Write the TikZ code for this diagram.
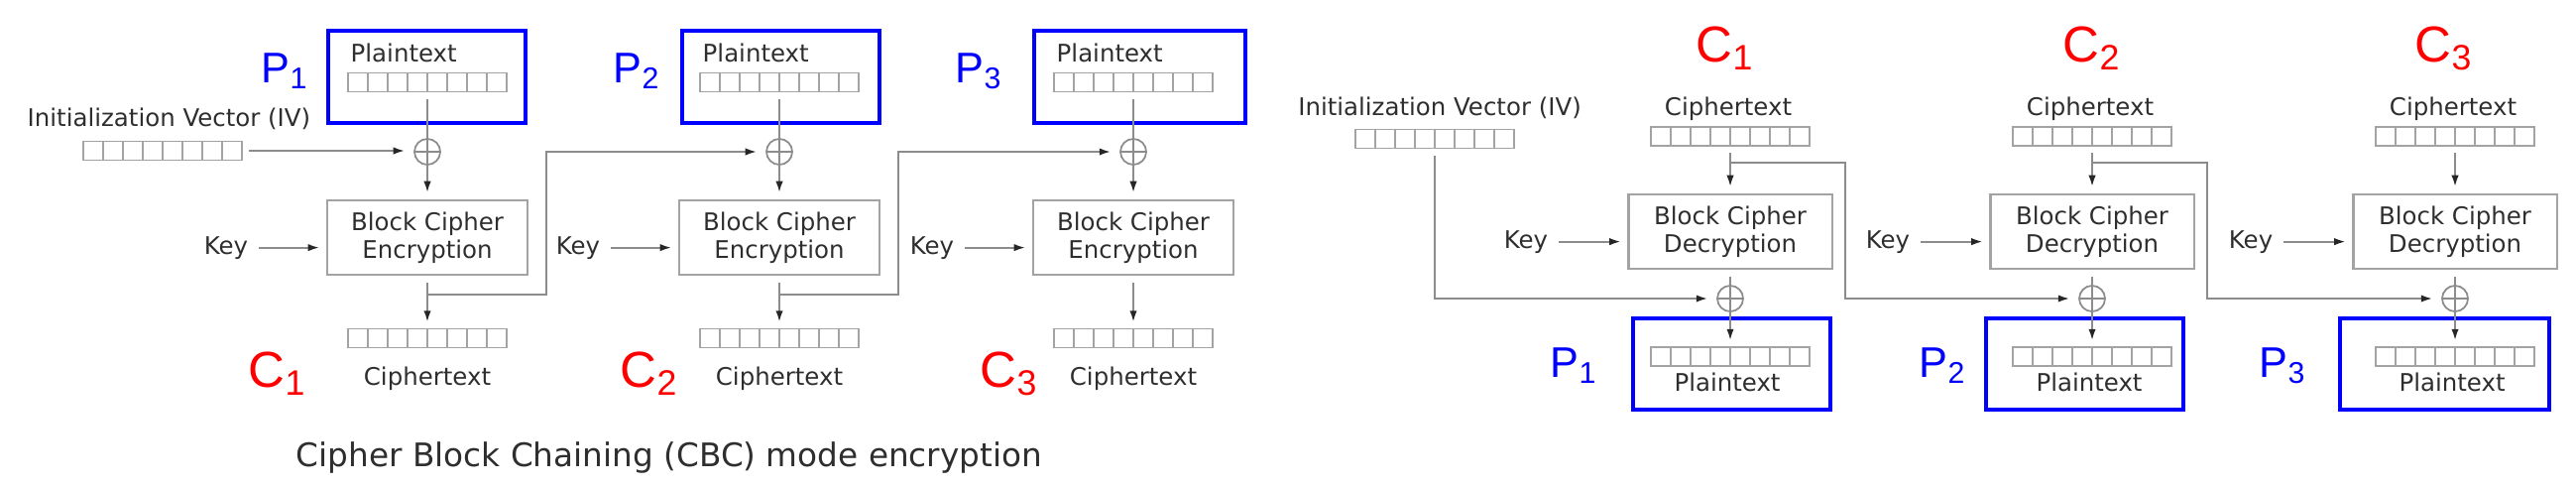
\documentclass[tikz,border=0pt]{standalone}
\usepackage{fontspec}
\setmainfont{DejaVu Sans}
\newfontfamily\lblfont{Liberation Sans}
\usepackage{graphicx}
\usetikzlibrary{arrows.meta}
\definecolor{lnclr}{HTML}{8C8C8C}
\definecolor{edgeclr}{HTML}{A3A3A3}
\definecolor{txtclr}{HTML}{2E2E2E}
\newcommand\Sub[1]{\raisebox{-.16em}{\scalebox{.7}{#1}}}
\tikzset{
  ln/.style={draw=lnclr,line width=.5pt},
  arr/.style={ln,-{Latex[length=3.2pt,width=2.1pt,color=black!85]}},
  txt/.style={text=txtclr,inner sep=0pt,font=\fontsize{6.95pt}{8.1pt}\selectfont},
  bits/.style={draw=edgeclr,line width=.5pt,minimum width=1.6cm,minimum height=.19cm,inner sep=0pt,outer sep=.07cm,
    path picture={\foreach \k in {1,...,7}
      \draw[edgeclr,line width=.5pt] ([xshift=\k*.2cm]path picture bounding box.south west)--([xshift=\k*.2cm]path picture bounding box.north west);}},
  blk/.style={txt,draw=edgeclr,line width=.6pt,align=center,minimum height=.75cm,outer sep=.08cm},
  xorop/.style={circle,draw=lnclr,line width=.5pt,minimum size=.26cm,inner sep=0pt,outer sep=.1cm,
    path picture={\draw[lnclr,line width=.5pt] (path picture bounding box.north)--(path picture bounding box.south)
      (path picture bounding box.west)--(path picture bounding box.east);}},
  ptbox/.style={draw=blue,line width=1pt,inner sep=0pt},
  plbl/.style={blue,inner sep=0pt,anchor=base west,font=\lblfont\fontsize{12.3pt}{14pt}\selectfont},
  clbl/.style={red,inner sep=0pt,anchor=base west,font=\lblfont\fontsize{14.5pt}{16pt}\selectfont},
}
\begin{document}
\begin{tikzpicture}[x=.01cm,y=-.01cm]
  \useasboundingbox (0,0) rectangle (2598,490);
  % encryption
  \node[txt,anchor=base west] (eivt) at (27,127) {Initialization Vector (IV)};
  \node[bits] (eiv) at (164,152) {};
  \foreach \i/\cx/\pl/\bx/\bw/\cl in {1/431/263/430.5/1.99/250,2/786/618/787.5/1.99/625,3/1143/963/1149.5/2.13/988}{
    \node[ptbox,minimum width=\bw cm,minimum height=.93cm] (epb\i) at (\bx,77.5) {};
    \node[txt,anchor=base west] (eptt\i) at (\cx-78,62) {Plaintext};
    \node[bits] (ept\i) at (\cx,83) {};
    \node[plbl] (eP\i) at (\pl,83) {P\Sub{\i}};
    \node[xorop] (ex\i) at (\cx,153) {};
    \node[blk,minimum width=2.02cm] (eb\i) at (\cx,239.5) {Block Cipher\\Encryption};
    \node[txt,anchor=base] (ek\i) at (\cx-203,256) {Key};
    \node[bits] (ect\i) at (\cx,341) {};
    \node[txt,anchor=base] (ectt\i) at (\cx,388) {Ciphertext};
    \node[clbl] (eC\i) at (\cl,390) {C\Sub{\i}};
    \coordinate (ebr\i) at (\cx,297);
    \draw[ln] (ept\i.south) -- (ex\i.center);
    \draw[arr] (ex\i.center) -- (eb\i.north);
    \draw[arr,shorten <=.1cm] (ek\i.east) -- (ek\i.east -| eb\i.west);
    \draw[arr] (eb\i.south) -- (ect\i.north);
  }
  \draw[arr] (eiv.east) -- (eiv.east -| ex1.west);
  \foreach \i/\j in {1/2,2/3}
    \draw[arr] (ebr\i) -- ++(120,0) |- (ex\j.west);
  \node[txt,anchor=base,font=\fontsize{9.3pt}{11pt}\selectfont] (cap) at (675,470) {Cipher Block Chaining (CBC) mode encryption};
  % decryption
  \node[txt,anchor=base] (divt) at (1452,116) {Initialization Vector (IV)};
  \node[bits] (div) at (1447,140) {};
  \foreach \i/\cx/\cl/\pl/\bx/\bw in {1/1745/1710/1563/1746.5/1.99,2/2110/2080/1935/2102.5/1.99,3/2476/2435/2278/2465.5/2.11}{
    \node[clbl] (dC\i) at (\cl,62) {C\Sub{\i}};
    \node[txt,anchor=base] (dctt\i) at (\cx-2,116) {Ciphertext};
    \node[bits] (dct\i) at (\cx,137.5) {};
    \node[blk,minimum width=2.05cm] (db\i) at (\cx,233.5) {Block Cipher\\Decryption};
    \node[txt,anchor=base] (dk\i) at (\cx-206,250) {Key};
    \node[xorop] (dx\i) at (\cx,301) {};
    \node[ptbox,minimum width=\bw cm,minimum height=.92cm] (dpb\i) at (\bx,367) {};
    \node[bits] (dpt\i) at (\cx,359.5) {};
    \node[txt,anchor=base] (dptt\i) at (\cx-3,394) {Plaintext};
    \node[plbl] (dP\i) at (\pl,380) {P\Sub{\i}};
    \coordinate (dbr\i) at (\cx,164);
    \draw[arr] (dct\i.south) -- (db\i.north);
    \draw[arr,shorten <=.1cm] (dk\i.east) -- (dk\i.east -| db\i.west);
    \draw[ln] (db\i.south) -- (dx\i.center);
    \draw[arr] (dx\i.center) -- (dpt\i.north);
  }
  \draw[arr] (div.south) |- (dx1.west);
  \foreach \i/\j in {1/2,2/3}
    \draw[arr] (dbr\i) -- ++(116,0) |- (dx\j.west);
\end{tikzpicture}
\end{document}
